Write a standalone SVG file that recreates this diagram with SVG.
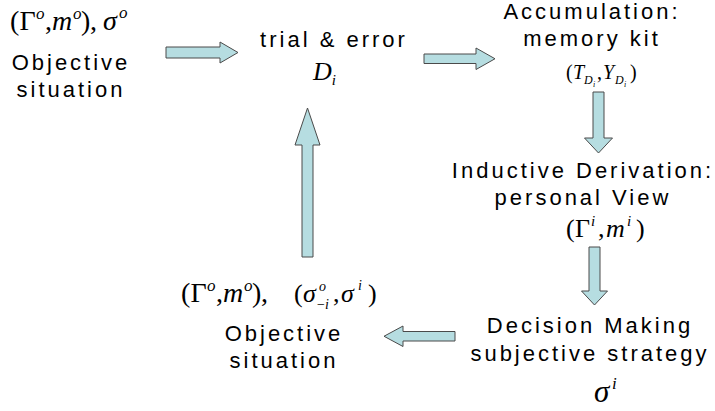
<svg xmlns="http://www.w3.org/2000/svg" width="715" height="411" viewBox="0 0 715 411">
<style>
.t{font-family:"Liberation Sans",Arial,sans-serif;font-size:22px;letter-spacing:3px;fill:#000;text-anchor:middle}
.m{font-family:"Liberation Serif","Times New Roman",serif;fill:#000}
.i{font-style:italic}
.arr{fill:#b6dde1;stroke:#4a4a4a;stroke-width:1}
</style>
<rect width="715" height="411" fill="#fff"/>
<g id="objective-top">
<text class="m" font-size="28"><tspan x="10" y="30">(</tspan><tspan x="19.5" y="30">Γ</tspan><tspan class="i" font-size="17" x="36" y="19">o</tspan><tspan x="45" y="30">,</tspan><tspan class="i" x="52" y="30">m</tspan><tspan class="i" font-size="17" x="73" y="19">o</tspan><tspan x="81" y="30">)</tspan><tspan x="90" y="30">,</tspan><tspan class="i" x="103" y="30">σ</tspan><tspan class="i" font-size="17" x="119" y="18">o</tspan></text>
<text class="t" x="71" y="70">Objective</text>
<text class="t" x="71" y="97">situation</text>
</g>
<g id="trial">
<text class="t" x="334" y="47">trial &amp; error</text>
<text class="m i" x="313" y="80" font-size="26">D<tspan font-size="15" dy="5">i</tspan></text>
</g>
<g id="accumulation">
<text class="t" x="592" y="19">Accumulation:</text>
<text class="t" x="592" y="46">memory kit</text>
<text class="m" font-size="20"><tspan x="566" y="79">(</tspan><tspan class="i" x="573" y="79">T</tspan><tspan class="i" font-size="12" x="584" y="84">D</tspan><tspan class="i" font-size="8" x="593" y="87">i</tspan><tspan x="597" y="79">,</tspan><tspan class="i" x="603" y="79">Y</tspan><tspan class="i" font-size="12" x="615" y="84">D</tspan><tspan class="i" font-size="8" x="624" y="87">i</tspan><tspan x="630" y="79">)</tspan></text>
</g>
<g id="inductive">
<text class="t" x="583" y="178">Inductive Derivation:</text>
<text class="t" x="583" y="205">personal View</text>
<text class="m" font-size="26"><tspan x="566" y="237">(</tspan><tspan x="575" y="237">Γ</tspan><tspan class="i" x="591" y="226" font-size="15">i</tspan><tspan x="598" y="237">,</tspan><tspan class="i" x="606" y="237">m</tspan><tspan class="i" x="627" y="226" font-size="15">i</tspan><tspan x="636" y="237">)</tspan></text>
</g>
<g id="decision">
<text class="t" x="590" y="333">Decision Making</text>
<text class="t" x="590" y="361">subjective strategy</text>
<text class="m i" font-size="31"><tspan x="594" y="402">σ</tspan><tspan x="612" y="389" font-size="17">i</tspan></text>
</g>
<g id="objective-bottom">
<text class="m" font-size="28"><tspan x="181" y="302">(</tspan><tspan x="190.5" y="302">Γ</tspan><tspan class="i" font-size="17" x="207" y="291">o</tspan><tspan x="216" y="302">,</tspan><tspan class="i" x="223" y="302">m</tspan><tspan class="i" font-size="17" x="244" y="291">o</tspan><tspan x="252" y="302">)</tspan><tspan x="261" y="302">,</tspan><tspan font-size="26" x="294" y="302">(</tspan><tspan class="i" font-size="26" x="303" y="302">σ</tspan><tspan class="i" font-size="14" x="319" y="291">o</tspan><tspan font-size="14" x="317" y="309">−</tspan><tspan class="i" font-size="14" x="325" y="309">i</tspan><tspan font-size="26" x="333" y="302">,</tspan><tspan class="i" font-size="26" x="341" y="302">σ</tspan><tspan class="i" font-size="14" x="358" y="290">i</tspan><tspan font-size="26" x="368" y="302">)</tspan></text>
<text class="t" x="284" y="341">Objective</text>
<text class="t" x="284" y="368">situation</text>
</g>
<g id="connectors">
<path class="arr" d="M166,47 H220 V42 L238,52.5 L220,63 V58 H166 Z"/>
<path class="arr" d="M424,54 H476 V48 L495,58.75 L476,69.5 V63.5 H424 Z"/>
<path class="arr" d="M593,92 H604 V138 H612.5 L598.5,153 L584.5,138 H593 Z"/>
<path class="arr" d="M589,247 H600 V291 H607.5 L594.5,305 L581.5,291 H589 Z"/>
<path class="arr" d="M455,331.5 H403 V326 L384,336.25 L403,346.5 V341 H455 Z"/>
<path class="arr" d="M302,257 V145 H295 L307.5,108 L320,145 H313 V257 Z"/>
</g>
</svg>
